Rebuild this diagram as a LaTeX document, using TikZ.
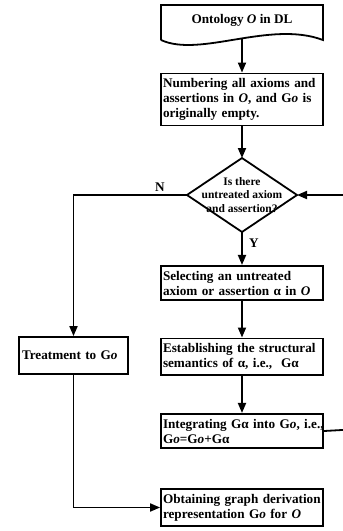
\documentclass[tikz,border=0pt]{standalone}
\usepackage{fontspec}
\setmainfont{Liberation Serif}
\usetikzlibrary{arrows.meta}
\begin{document}
\begin{tikzpicture}[x=1pt,y=-1pt,
  line width=1.8pt,
  arr/.style={-{Triangle[length=10pt,width=8pt]}},
  stepbox/.style={draw,rectangle,inner xsep=2pt,inner ysep=5pt,text width=158pt,align=left,
    font=\fontsize{13.2}{15}\selectfont\bfseries},
  lbl/.style={font=\fontsize{13.2}{15}\selectfont\bfseries,inner sep=0pt}]
\clip (0,0) rectangle (343,531);
% document shape
\draw[line join=miter] (161,40) -- (161,5) -- (323,5) -- (323,40) .. controls (270,20) and (200,58) .. (161,40);
\node[lbl] (doc) at (242,20) {Ontology \textit{O} in DL};
\coordinate (docb) at (242,39);
% boxes
\node[stepbox] (numb) at (242,99.5) {\mbox{Numbering all axioms and}\\\mbox{assertions in \textit{O}, and G\textit{o} is}\\\mbox{originally empty.}};
% diamond
\coordinate (diaT) at (242,158);
\coordinate (diaB) at (242,232);
\coordinate (diaL) at (187,195);
\coordinate (diaR) at (297,195);
\draw[line join=miter] (diaT) -- (diaR) -- (diaB) -- (diaL) -- cycle;
\node[font=\fontsize{11.5}{13.5}\selectfont\bfseries,align=center,inner sep=0pt] (dia) at (242,195) {Is there\\untreated axiom\\and assertion?};
\node[stepbox] (sel) at (242,283) {\mbox{Selecting an untreated}\\\mbox{axiom or assertion α in \textit{O}}};
\node[stepbox] (est) at (242,356.5) {\mbox{Establishing the structural}\\\mbox{semantics of α, i.e.,~~Gα}};
\node[stepbox] (integ) at (242,431) {\mbox{Integrating Gα into G\textit{o}, i.e.,}\\\mbox{G\textit{o}=G\textit{o}+Gα}};
\node[stepbox] (obt) at (242,507.5) {\mbox{Obtaining graph derivation}\\\mbox{representation G\textit{o} for \textit{O}}};
\node[draw,rectangle,minimum height=37pt,inner xsep=3pt,text width=103pt,align=left,
  font=\fontsize{13.2}{15}\selectfont\bfseries] (treat) at (73.5,355.5) {Treatment to G\textit{o}};
% labels
\node[lbl] (nlab) at (160,187) {N};
\node[lbl] (ylab) at (254,243) {Y};
% connectors
\draw[arr] (docb) -- (numb.north);
\draw[arr] (numb.south) -- (diaT);
\draw[arr] (diaB) -- (sel.north);
\draw[arr] (sel.south) -- (est.north);
\draw[arr] (est.south) -- (integ.north);
\draw[arr] (diaL) -| (treat.north);
\draw[arr] (treat.south) |- (obt.west);
\coordinate (loopc) at (360,429);
\draw[arr] (integ.east) -- (loopc) |- (diaR);
\end{tikzpicture}
\end{document}
